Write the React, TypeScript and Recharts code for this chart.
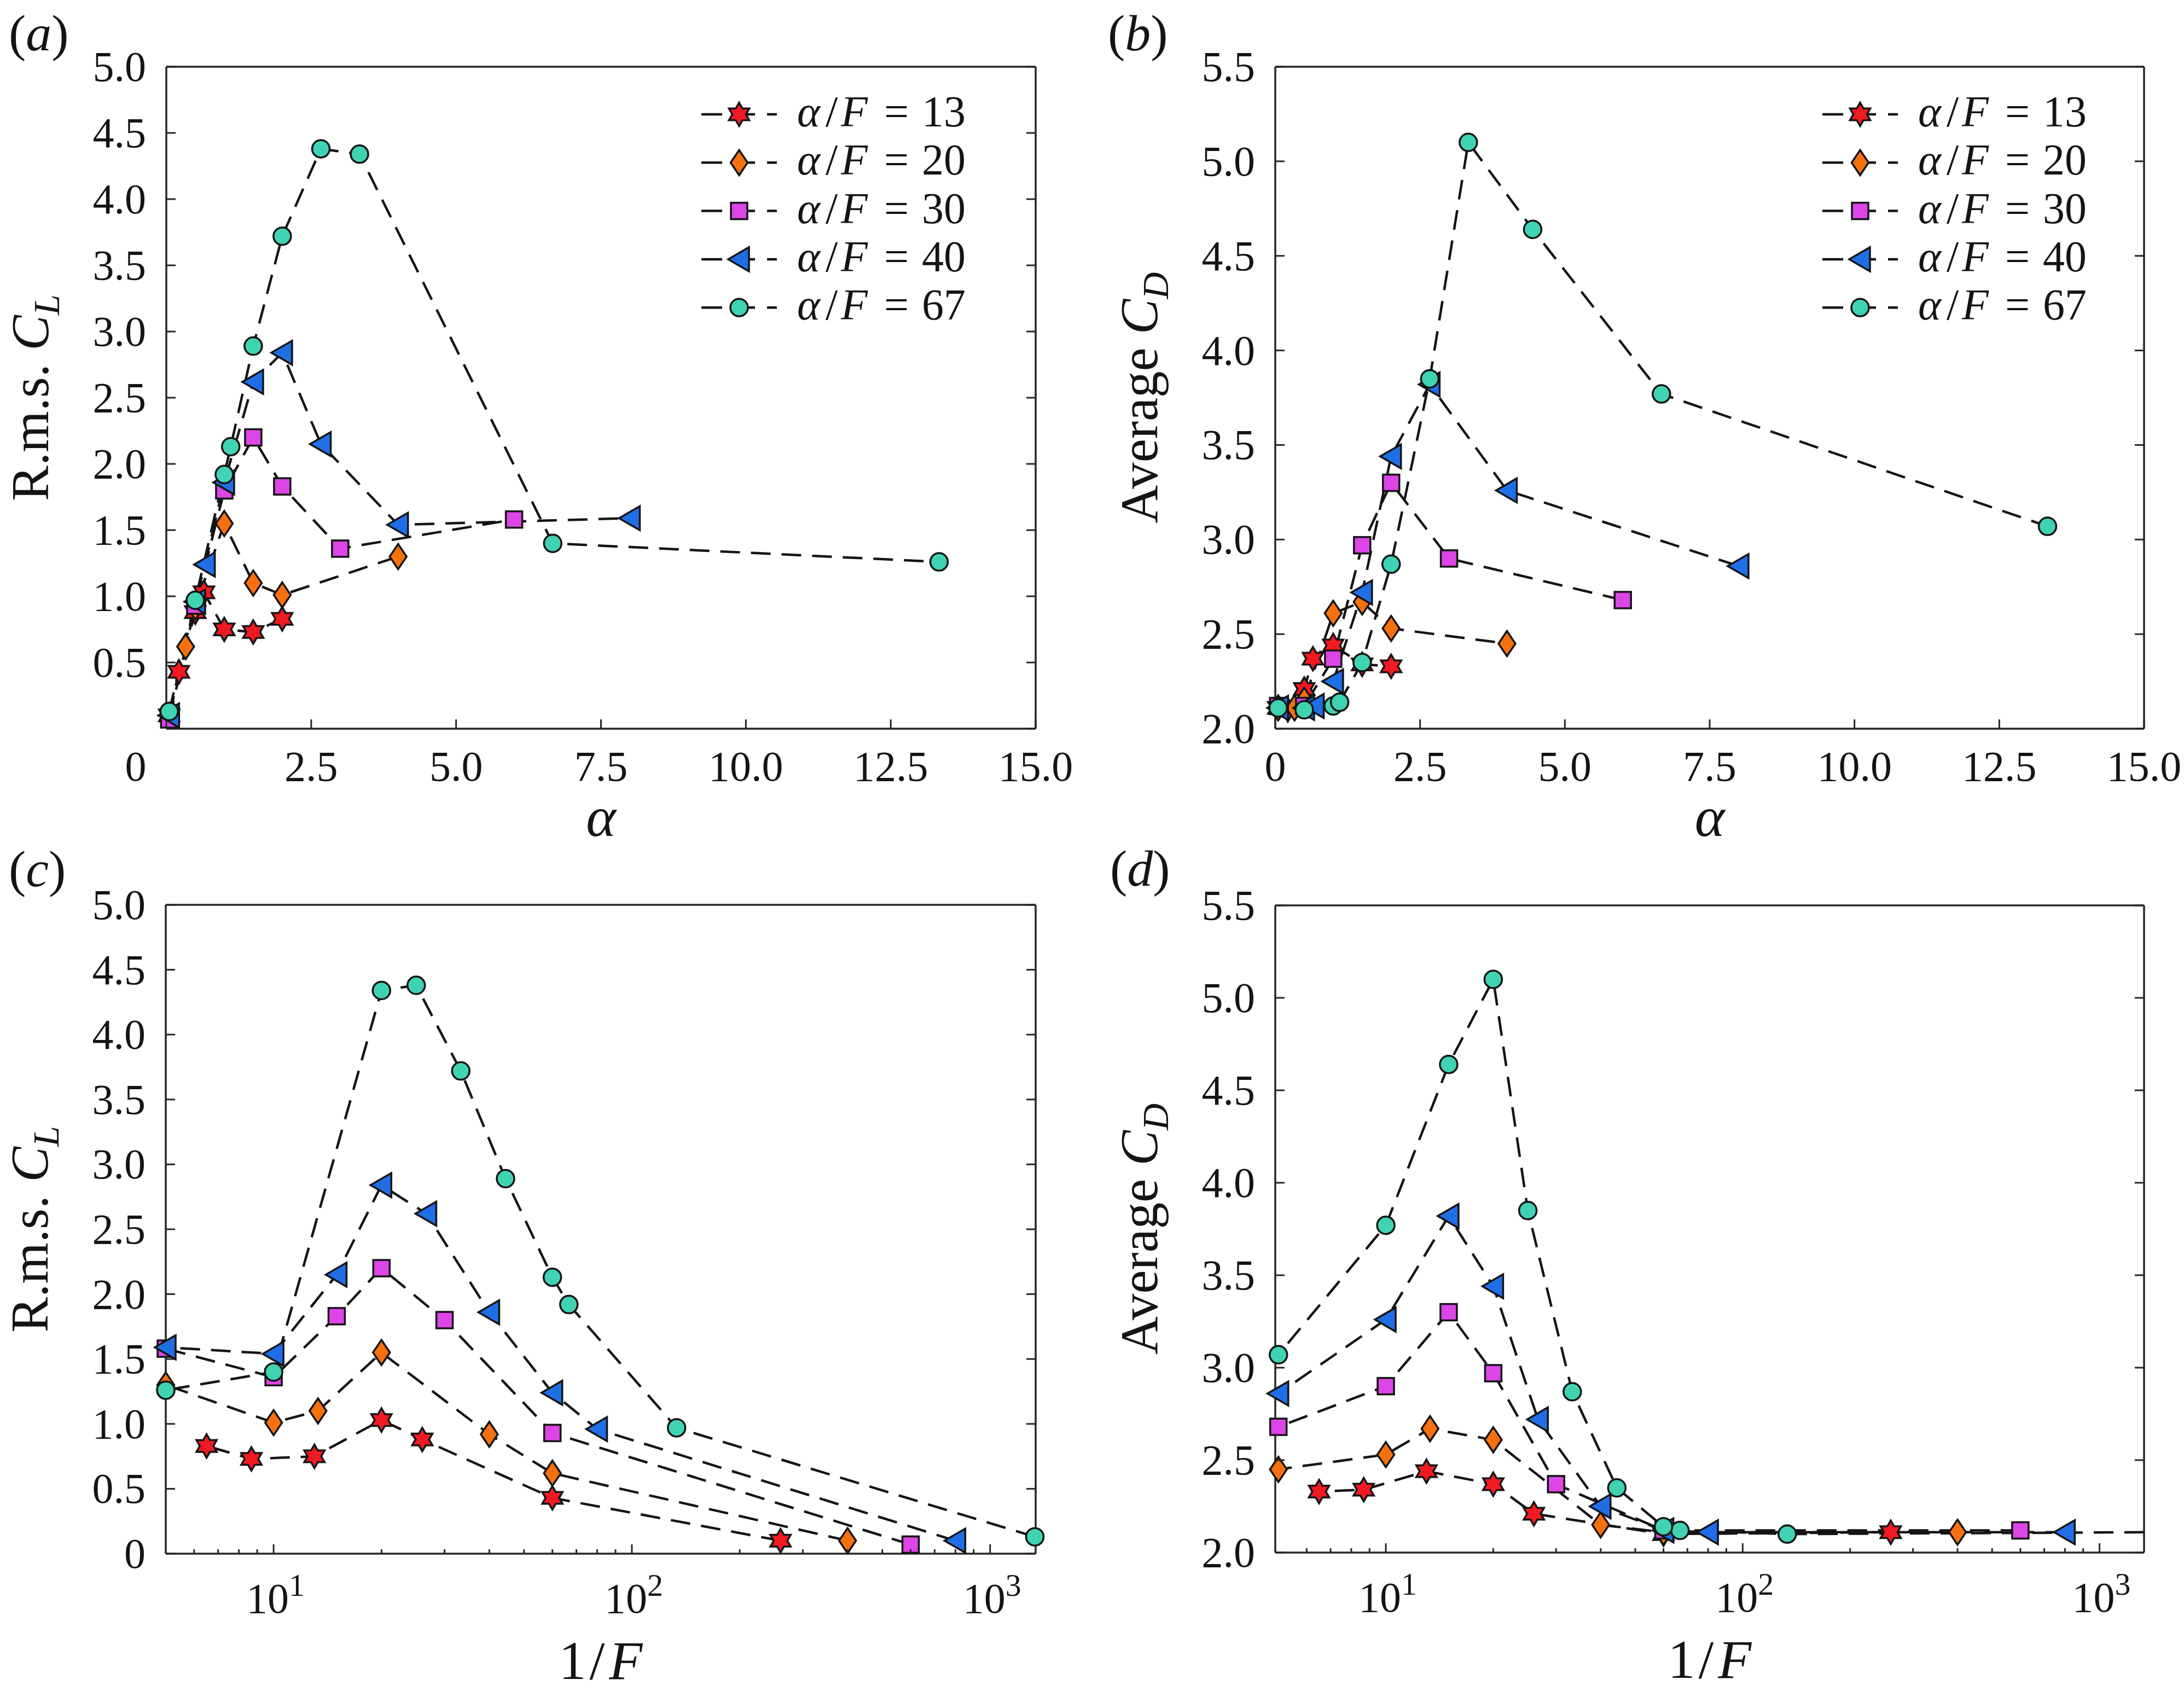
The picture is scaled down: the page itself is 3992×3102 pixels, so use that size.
import React from 'react';
import { LineChart, Line, XAxis, YAxis } from 'recharts';

const FONT = "'Liberation Serif', 'Times New Roman', Times, serif";
const INK = '#141414';
const AXIS = '#262626';
const TICK_FONT = 78;
const TXT = { fontFamily: FONT };

// ---- data ----
// alpha/F = 13
const alpha13 = [0.05, 0.2167, 0.5, 0.65, 1.0, 1.5, 2.0];
const invF13 = [260, 60, 26, 20, 13, 8.67, 6.5];
const cl13 = [0.1, 0.43, 0.88, 1.03, 0.75, 0.73, 0.83];
const cd13 = [2.11, 2.1, 2.21, 2.37, 2.44, 2.34, 2.33];

// alpha/F = 20
const alpha20 = [0.05, 0.333, 0.5, 1.0, 1.5, 2.0, 4.0];
const invF20 = [400, 60, 40, 20, 13.3, 10, 5];
const cl20 = [0.1, 0.62, 0.92, 1.55, 1.1, 1.01, 1.3];
const cd20 = [2.11, 2.11, 2.15, 2.61, 2.67, 2.53, 2.45];

// alpha/F = 30
const alpha30 = [0.05, 0.5, 1.0, 1.5, 2.0, 3.0, 6.0];
const invF30 = [600, 60, 30, 20, 15, 10, 5];
const cl30 = [0.07, 0.93, 1.8, 2.2, 1.83, 1.36, 1.58];
const cd30 = [2.12, 2.12, 2.37, 2.97, 3.3, 2.9, 2.68];

// alpha/F = 40
const alpha40 = [0.05, 0.5, 0.667, 1.0, 1.5, 2.0, 2.667, 4.0, 8.0];
const invF40 = [800, 80, 60, 40, 26.7, 20, 15, 10, 5];
const cl40 = [0.1, 0.96, 1.24, 1.86, 2.62, 2.84, 2.15, 1.54, 1.59];
const cd40 = [2.11, 2.11, 2.12, 2.25, 2.72, 3.44, 3.82, 3.26, 2.86];

// alpha/F = 67
const alpha67 = [0.05, 0.5, 1.0, 1.111, 1.5, 2.0, 2.667, 3.333, 4.444, 6.667, 13.333];
const invF67 = [1333, 133.3, 66.7, 60, 44.4, 33.3, 25, 20, 15, 10, 5];
const cl67 = [0.13, 0.97, 1.92, 2.13, 2.89, 3.72, 4.38, 4.34, null, 1.4, 1.26];
const cd67 = [2.11, 2.1, 2.12, 2.14, 2.35, 2.87, 3.85, 5.1, 4.64, 3.77, 3.07];

const RATIO_LABELS = ['13', '20', '30', '40', '67'];
const ALPHA_TICKS = [0, 2.5, 5, 7.5, 10, 12.5, 15];
const CL_TICKS = [0, 0.5, 1, 1.5, 2, 2.5, 3, 3.5, 4, 4.5, 5];
const CD_TICKS = [2, 2.5, 3, 3.5, 4, 4.5, 5, 5.5];
const LOG_MAJOR = [10, 100, 1000];
const LOG_MINOR = [6, 7, 8, 9, 20, 30, 40, 50, 60, 70, 80, 90, 200, 300, 400, 500, 600, 700, 800, 900];

type Shape = 'star' | 'diamond' | 'square' | 'triangle' | 'circle';

interface Series {
  label: string;
  shape: Shape;
  color: string;
  alpha: number[];
  invF: number[];
  cl: (number | null)[];
  cd: (number | null)[];
}

const SERIES: Series[] = [
  { label: RATIO_LABELS[0], shape: 'star', color: '#f01a22', alpha: alpha13, invF: invF13, cl: cl13, cd: cd13 },
  { label: RATIO_LABELS[1], shape: 'diamond', color: '#f5700f', alpha: alpha20, invF: invF20, cl: cl20, cd: cd20 },
  { label: RATIO_LABELS[2], shape: 'square', color: '#dc45e6', alpha: alpha30, invF: invF30, cl: cl30, cd: cd30 },
  { label: RATIO_LABELS[3], shape: 'triangle', color: '#1f6ee6', alpha: alpha40, invF: invF40, cl: cl40, cd: cd40 },
  { label: RATIO_LABELS[4], shape: 'circle', color: '#3fd3b4', alpha: alpha67, invF: invF67, cl: cl67, cd: cd67 },
];

// ---- markers ----
function Marker({ shape, color, cx, cy }: { shape: Shape; color: string; cx: number; cy: number }) {
  const common = { fill: color, stroke: INK, strokeWidth: 3.5 };
  if (shape === 'star') {
    const pts: string[] = [];
    for (let k = 0; k < 12; k++) {
      const rad = k % 2 === 0 ? 21.5 : 12.4;
      const a = ((-90 + k * 30) * Math.PI) / 180;
      pts.push(`${cx + rad * Math.cos(a)},${cy + rad * Math.sin(a)}`);
    }
    return <polygon points={pts.join(' ')} {...common} />;
  }
  if (shape === 'diamond') {
    return <polygon points={`${cx},${cy - 23} ${cx + 15.5},${cy} ${cx},${cy + 23} ${cx - 15.5},${cy}`} {...common} />;
  }
  if (shape === 'square') {
    return <rect x={cx - 15} y={cy - 15} width={30} height={30} {...common} />;
  }
  if (shape === 'triangle') {
    return <polygon points={`${cx - 20},${cy} ${cx + 18},${cy - 22} ${cx + 18},${cy + 22}`} {...common} />;
  }
  return <circle cx={cx} cy={cy} r={16} {...common} />;
}

// ---- ticks ----
const fmtNum = (v: number) => (v === 0 ? '0' : v.toFixed(1));

function bottomTick(props: any, log: boolean, zeroShift: number) {
  const { x, y, payload, index } = props;
  const v = payload.value as number;
  if (log) {
    const major = LOG_MAJOR.includes(v);
    return (
      <g key={`b-${index}`}>
        <line x1={x} x2={x} y1={y} y2={y - (major ? 17 : 8)} stroke={AXIS} strokeWidth={3} />
        {major && (
          <text x={x - 50} y={y + 108} style={TXT} fontSize={TICK_FONT} fill={INK}>
            10
            <tspan fontSize={58} dy={-31}>
              {Math.round(Math.log10(v))}
            </tspan>
          </text>
        )}
      </g>
    );
  }
  return (
    <g key={`b-${index}`}>
      <line x1={x} x2={x} y1={y} y2={y - 17} stroke={AXIS} strokeWidth={3} />
      <text x={x + (v === 0 ? zeroShift : 0)} y={y + 95} textAnchor="middle" style={TXT} fontSize={TICK_FONT} fill={INK}>
        {fmtNum(v)}
      </text>
    </g>
  );
}

function topTick(props: any, log: boolean) {
  const { x, y, payload, index } = props;
  const major = !log || LOG_MAJOR.includes(payload.value);
  return <line key={`t-${index}`} x1={x} x2={x} y1={y} y2={y + (major ? 17 : 8)} stroke={AXIS} strokeWidth={3} />;
}

function leftTick(props: any, hideZero: boolean) {
  const { x, y, payload, index } = props;
  const v = payload.value as number;
  return (
    <g key={`l-${index}`}>
      <line x1={x} x2={x + 17} y1={y} y2={y} stroke={AXIS} strokeWidth={3} />
      {!(hideZero && v === 0) && (
        <text x={x - 37} y={y + 26} textAnchor="end" style={TXT} fontSize={TICK_FONT} fill={INK}>
          {fmtNum(v)}
        </text>
      )}
    </g>
  );
}

function rightTick(props: any) {
  const { x, y, index } = props;
  return <line key={`r-${index}`} x1={x} x2={x - 17} y1={y} y2={y} stroke={AXIS} strokeWidth={3} />;
}

// ---- panel ----
const W = 1996;
const H = 1551;

interface PanelProps {
  left: number;
  top: number;
  plot: { l: number; r: number; t: number; b: number };
  xKey: 'alpha' | 'invF';
  yKey: 'cl' | 'cd';
  xLog: boolean;
  xDomain: [number, number];
  yDomain: [number, number];
  yTicks: number[];
  letter: string;
  letterX: number;
  letterY: number;
  hideYZero?: boolean;
  zeroShift?: number;
  legend?: { x: number; y: number };
  hideBeyond?: number;
}

function Panel(p: PanelProps) {
  const { l, r, t, b } = p.plot;
  const margin = { left: l - 100, right: W - r - 1, top: t - 1, bottom: H - b - 100 };
  const xTicks = p.xLog ? [...LOG_MINOR, ...LOG_MAJOR].sort((a, c) => a - c) : ALPHA_TICKS;
  const axisLine = { stroke: AXIS, strokeWidth: 3.5 };

  return (
    <div style={{ position: 'absolute', left: p.left, top: p.top, width: W, height: H }}>
      <LineChart width={W} height={H} margin={margin}>
        <XAxis
          xAxisId="b"
          type="number"
          dataKey="x"
          scale={p.xLog ? 'log' : 'linear'}
          domain={p.xDomain}
          ticks={xTicks}
          interval={0}
          height={100}
          tickSize={0}
          tickMargin={0}
          tickLine={false}
          axisLine={axisLine}
          tick={(props: any) => bottomTick(props, p.xLog, p.zeroShift ?? 0)}
        />
        <XAxis
          xAxisId="t"
          orientation="top"
          type="number"
          scale={p.xLog ? 'log' : 'linear'}
          domain={p.xDomain}
          allowDataOverflow
          ticks={xTicks}
          interval={0}
          height={1}
          tickSize={0}
          tickMargin={0}
          tickLine={false}
          axisLine={axisLine}
          tick={(props: any) => topTick(props, p.xLog)}
        />
        <YAxis
          yAxisId="l"
          type="number"
          domain={p.yDomain}
          ticks={p.yTicks}
          interval={0}
          width={100}
          tickSize={0}
          tickMargin={0}
          tickLine={false}
          axisLine={axisLine}
          tick={(props: any) => leftTick(props, !!p.hideYZero)}
        />
        <YAxis
          yAxisId="r"
          orientation="right"
          type="number"
          domain={p.yDomain}
          allowDataOverflow
          ticks={p.yTicks}
          interval={0}
          width={1}
          tickSize={0}
          tickMargin={0}
          tickLine={false}
          axisLine={axisLine}
          tick={(props: any) => rightTick(props)}
        />
        {SERIES.map((s) => {
          const xs = s[p.xKey];
          const ys = s[p.yKey];
          const data = xs
            .map((x, i) => ({ x, y: ys[i] }))
            .filter((d) => d.y !== null && d.y !== undefined);
          return (
            <Line
              key={s.label}
              xAxisId="b"
              yAxisId="l"
              data={data}
              dataKey="y"
              type="linear"
              stroke={INK}
              strokeWidth={4.5}
              strokeDasharray="36 20"
              isAnimationActive={false}
              activeDot={false}
              dot={(dp: any) => {
                if (p.hideBeyond !== undefined && dp.payload.x > p.hideBeyond) {
                  return <g key={dp.key ?? `h-${dp.index}`} />;
                }
                return (
                  <g key={dp.key ?? `d-${dp.index}`}>
                    <Marker shape={s.shape} color={s.color} cx={dp.cx} cy={dp.cy} />
                  </g>
                );
              }}
            />
          );
        })}
      </LineChart>
    </div>
  );
}

// annotations (panel letter, axis titles, legend) in page coordinates
function Annotations({ p }: { p: PanelProps }) {
  const ox = p.left;
  const oy = p.top;
  const { l, r, t, b } = p.plot;
  const cx = ox + (l + r) / 2;
  const cy = oy + (t + b) / 2;
  const xTitleY = oy + b + (p.xLog ? 229 : 196);
  const yTitleX = ox + l - 216;
  return (
    <g>
      <text x={ox + p.letterX} y={oy + p.letterY} fontSize={94} style={TXT}>
        (<tspan fontStyle="italic">{p.letter}</tspan>)
      </text>
      {p.xLog ? (
        <text x={cx} y={xTitleY} fontSize={100} textAnchor="middle" style={TXT}>
          1<tspan dx={6}>/</tspan>
          <tspan dx={8} fontStyle="italic">
            F
          </tspan>
        </text>
      ) : (
        <text x={cx} y={xTitleY} fontSize={104} textAnchor="middle" fontStyle="italic" style={TXT}>
          α
        </text>
      )}
      <text transform={`translate(${yTitleX},${cy}) rotate(-90)`} fontSize={97} textAnchor="middle" style={TXT}>
        {p.yKey === 'cl' ? 'R.m.s. ' : 'Average '}
        <tspan fontStyle="italic">C</tspan>
        <tspan fontStyle="italic" fontSize={68} dy={20}>
          {p.yKey === 'cl' ? 'L' : 'D'}
        </tspan>
      </text>
      {p.legend &&
        SERIES.map((s, i) => {
          const ly = oy + p.legend!.y + i * 88.3;
          const lx = ox + p.legend!.x;
          const tx = lx + 175;
          return (
            <g key={`lg-${s.label}`}>
              <line x1={lx} x2={lx + 138} y1={ly} y2={ly} stroke={INK} strokeWidth={4.5} strokeDasharray="38 22" />
              <Marker shape={s.shape} color={s.color} cx={lx + 69} cy={ly} />
              <text y={ly + 22} fontSize={80} style={TXT}>
                <tspan x={tx} fontStyle="italic">
                  α
                </tspan>
                <tspan x={tx + 52}>/</tspan>
                <tspan x={tx + 80} fontStyle="italic">
                  F
                </tspan>
                <tspan x={tx + 159}>=</tspan>
                <tspan x={tx + 228}>{s.label}</tspan>
              </text>
            </g>
          );
        })}
    </g>
  );
}

const PANELS: PanelProps[] = [
  {
    left: 0,
    top: 0,
    plot: { l: 304, r: 1893, t: 122, b: 1332 },
    xKey: 'alpha',
    yKey: 'cl',
    xLog: false,
    xDomain: [0, 15],
    yDomain: [0, 5],
    yTicks: CL_TICKS,
    hideYZero: true,
    zeroShift: -56,
    letter: 'a',
    letterX: 16,
    letterY: 92,
    legend: { x: 1282, y: 209 },
  },
  {
    left: 1996,
    top: 0,
    plot: { l: 335, r: 1923, t: 122, b: 1332 },
    xKey: 'alpha',
    yKey: 'cd',
    xLog: false,
    xDomain: [0, 15],
    yDomain: [2, 5.5],
    yTicks: CD_TICKS,
    letter: 'b',
    letterX: 29,
    letterY: 92,
    legend: { x: 1335, y: 209 },
  },
  {
    left: 0,
    top: 1551,
    plot: { l: 303, r: 1893, t: 103, b: 1289 },
    xKey: 'invF',
    yKey: 'cl',
    xLog: true,
    xDomain: [5, 1340],
    yDomain: [0, 5],
    yTicks: CL_TICKS,
    letter: 'c',
    letterX: 16,
    letterY: 69,
  },
  {
    left: 1996,
    top: 1551,
    plot: { l: 335, r: 1923, t: 104, b: 1287 },
    xKey: 'invF',
    yKey: 'cd',
    xLog: true,
    xDomain: [4.9, 1316],
    yDomain: [2, 5.5],
    yTicks: CD_TICKS,
    letter: 'd',
    letterX: 33,
    letterY: 68,
    hideBeyond: 1316,
  },
];

export default function App() {
  return (
    <div style={{ position: 'absolute', left: 0, top: 0, width: 3992, height: 3102, background: '#fff', fontFamily: FONT }}>
      {PANELS.map((p) => (
        <Panel key={p.letter} {...p} />
      ))}
      <svg
        width={3992}
        height={3102}
        style={{ position: 'absolute', left: 0, top: 0, pointerEvents: 'none', fontFamily: FONT }}
        fill={INK}
      >
        {PANELS.map((p) => (
          <Annotations key={`a-${p.letter}`} p={p} />
        ))}
      </svg>
    </div>
  );
}
